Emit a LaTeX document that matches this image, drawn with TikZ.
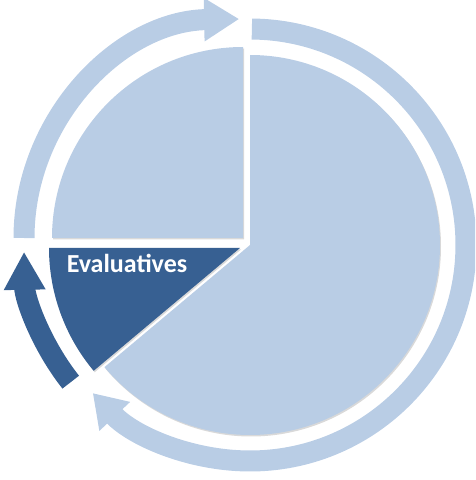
\documentclass[tikz,border=0pt]{standalone}
\usepackage{fontspec}
\setsansfont{Carlito}
\usetikzlibrary{arrows.meta, shadows}

\definecolor{paleblue}{HTML}{B9CDE5}
\definecolor{deepblue}{HTML}{376092}

\begin{document}
\begin{tikzpicture}[x=1pt, y=1pt,
    slice/.style={drop shadow={shadow xshift=1pt, shadow yshift=-1.5pt, opacity=0.3}},
    ring/.style={line width=21pt}]
        \useasboundingbox (0,0) rectangle (475,480);
        \clip (0,0) rectangle (475,480);

        % centres of the three slices
        \coordinate (O) at (250,235);
        \coordinate (U) at (243,242);
        \coordinate (V) at (240,232);

        % slices
        \fill[paleblue, slice] (O) -- ++(90:190) arc[start angle=90, end angle=-140, radius=190] -- cycle;
        \fill[paleblue, slice] (U) -- ++(90:191) arc[start angle=90, end angle=180, radius=191] -- cycle;
        \fill[deepblue, slice] (V) -- ++(180:191) arc[start angle=180, end angle=220, radius=191] -- cycle;

        \node[text=white, font=\sffamily\bfseries\fontsize{26}{30}\selectfont, anchor=base] (E) at (127,207) {Evaluatives};

        % arrows round the pie
        \draw[ring, paleblue, -{Triangle[length=35pt, width=41pt]}]
            ([shift={(180:219)}]U) arc[start angle=180, end angle=91, radius=219];
        \draw[ring, paleblue, -{Triangle[length=32pt, width=40pt]}]
            ([shift={(89.5:216)}]O) arc[start angle=89.5, end angle=-136.7, radius=216];
        \draw[ring, deepblue, -{Triangle[length=38pt, width=39pt]}]
            ([shift={(218.4:216)}]V) arc[start angle=218.4, end angle=181, radius=216];
    \end{tikzpicture}
\end{document}
